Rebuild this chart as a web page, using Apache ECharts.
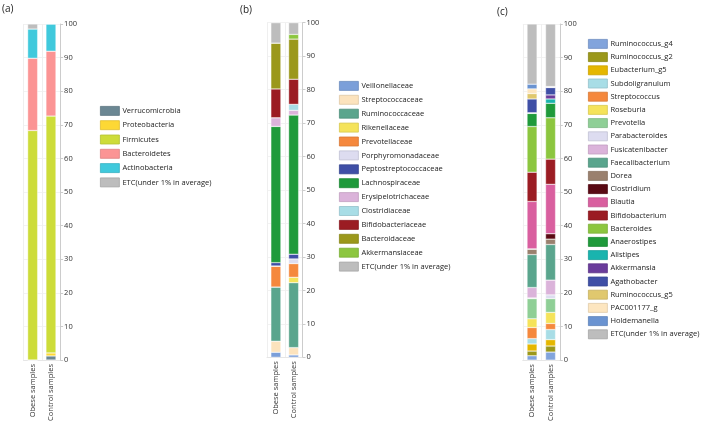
<!DOCTYPE html>
<html>
<head>
<meta charset="utf-8">
<script src="https://cdn.jsdelivr.net/npm/echarts@6/dist/echarts.min.js"></script>
<style>html,body{margin:0;padding:0;background:#fff}#c{width:706px;height:424px}</style>
</head>
<body>
<div id="c"></div>
<script>
const categories = ['Obese samples', 'Control samples'];
const yTicks = [0, 10, 20, 30, 40, 50, 60, 70, 80, 90, 100];

// (a) phylum level
const phylumNames = ['Verrucomicrobia', 'Proteobacteria', 'Firmicutes', 'Bacteroidetes', 'Actinobacteria', 'ETC(under 1% in average)'];
const phylumObese = [0, 0, 68.3, 21.5, 8.7, 1.5];
const phylumControl = [1.2, 0.9, 70.5, 19.3, 8.1, 0];

// (b) family level
const familyNames = ['Veillonellaceae', 'Streptococcaceae', 'Ruminococcaceae', 'Rikenellaceae', 'Prevotellaceae', 'Porphyromonadaceae', 'Peptostreptococcaceae', 'Lachnospiraceae', 'Erysipelotrichaceae', 'Clostridiaceae', 'Bifidobacteriaceae', 'Bacteroidaceae', 'Akkermansiaceae', 'ETC(under 1% in average)'];
const familyObese = [1.5, 3.3, 16.2, 0, 6.2, 0.1, 1.0, 40.7, 2.6, 0, 8.6, 13.7, 0, 6.1];
const familyControl = [0.7, 2.2, 19.4, 1.6, 4.1, 1.4, 1.4, 41.6, 1.4, 1.8, 7.5, 12.0, 1.4, 3.5];

// (c) genus level
const genusNames = ['Ruminococcus_g4', 'Ruminococcus_g2', 'Eubacterium_g5', 'Subdoligranulum', 'Streptococcus', 'Roseburia', 'Prevotella', 'Parabacteroides', 'Fusicatenibacter', 'Faecalibacterium', 'Dorea', 'Clostridium', 'Blautia', 'Bifidobacterium', 'Bacteroides', 'Anaerostipes', 'Alistipes', 'Akkermansia', 'Agathobacter', 'Ruminococcus_g5', 'PAC001177_g', 'Holdemanella', 'ETC(under 1% in average)'];
const genusObese = [1.3, 1.4, 2.1, 1.6, 3.3, 2.6, 6.0, 0.2, 3.1, 9.8, 1.6, 0.1, 14.1, 8.7, 13.6, 3.9, 0.1, 0.1, 4.1, 1.6, 1.4, 1.4, 17.9];
const genusControl = [2.4, 1.8, 1.9, 3.0, 1.8, 3.3, 4.1, 1.1, 4.4, 10.6, 1.6, 1.6, 14.7, 7.5, 12.3, 4.3, 1.3, 1.2, 2.2, 0.1, 0.1, 0.1, 18.6];

// colours (style)
const phylumColors = ['#6b8793', '#fdd835', '#cddc39', '#fb9494', '#40c9dc', '#bdbdbd'];
const familyColors = ['#7b9fd9', '#fce3bd', '#5aa58d', '#f5e35a', '#f5883d', '#dddcf0', '#3f4fa6', '#1f9a3b', '#dbb3da', '#a8dde6', '#9b1c23', '#9b981b', '#8cc63f', '#bdbdbd'];
const genusColors = ['#82a4dc', '#9b981b', '#e5b700', '#a8dde6', '#f5883d', '#f5e35a', '#8fcf96', '#dddcf0', '#dbb3da', '#5aa58d', '#9a806e', '#5a0a14', '#d95f9f', '#9b1c23', '#8cc63f', '#1f9a3b', '#19b4ae', '#6a3c9b', '#3f4fa6', '#e0c86e', '#fde6c0', '#6a93d1', '#bdbdbd'];

function darker(hex) {
  const r = parseInt(hex.slice(1, 3), 16), g = parseInt(hex.slice(3, 5), 16), b = parseInt(hex.slice(5, 7), 16);
  return 'rgb(' + Math.round(r * 0.88) + ',' + Math.round(g * 0.88) + ',' + Math.round(b * 0.88) + ')';
}

const FONT = 'Open Sans';
const grids = [
  {left: 23.5, top: 24, width: 36.6, height: 336},
  {left: 267, top: 22.7, width: 35.5, height: 334.6},
  {left: 522.8, top: 24, width: 37, height: 340}
];

function xAx(i) {
  return {
    type: 'category', gridIndex: i, data: categories,
    axisLine: {show: true, lineStyle: {color: '#e6e6e6'}},
    axisTick: {show: false},
    splitLine: {show: true, lineStyle: {color: '#efefef'}},
    axisLabel: {rotate: 90, fontSize: 7.5, fontFamily: FONT, color: '#333', margin: 4, interval: 0}
  };
}
function yAx(i) {
  return {
    type: 'value', gridIndex: i, position: 'right', min: yTicks[0], max: yTicks[yTicks.length - 1], interval: 10,
    axisLine: {show: true, lineStyle: {color: '#cccccc'}},
    axisTick: {show: true, length: 3, lineStyle: {color: '#cccccc'}},
    splitLine: {show: true, lineStyle: {color: '#f2f2f2'}},
    axisLabel: {fontSize: 7.5, fontFamily: FONT, color: '#333', margin: 4}
  };
}

const series = [];
function addPanel(idx, names, obese, control, colors) {
  names.forEach((n, k) => {
    series.push({
      type: 'bar', name: n, stack: 'p' + idx, xAxisIndex: idx, yAxisIndex: idx,
      barWidth: 10,
      data: [obese[k], control[k]],
      itemStyle: {color: colors[k], borderColor: '#ffffff', borderWidth: 0.4},
      emphasis: {disabled: true}
    });
  });
}
addPanel(0, phylumNames, phylumObese, phylumControl, phylumColors);
addPanel(1, familyNames, familyObese, familyControl, familyColors);
addPanel(2, genusNames, genusObese, genusControl, genusColors);

function leg(names, left, top, gap, colors) {
  return {
    orient: 'vertical', left: left, top: top, padding: 0,
    itemWidth: 19, itemHeight: 9, itemGap: gap,
    icon: 'rect',
    data: names.map((n, k) => ({name: n, itemStyle: {color: colors[k], borderColor: darker(colors[k]), borderWidth: 0.8}})),
    textStyle: {fontSize: 7.5, fontFamily: FONT, color: '#222', lineHeight: 9, padding: [0, 0, 0, -2]},
    selectedMode: false
  };
}

const chart = echarts.init(document.getElementById('c'), null, {renderer: 'canvas'});
chart.setOption({
  animation: false,
  backgroundColor: '#ffffff',
  title: [
    {text: '(a)', left: 2, top: 4, padding: 0, textStyle: {fontSize: 10, fontWeight: 'normal', fontFamily: FONT, color: '#222'}},
    {text: '(b)', left: 240, top: 5, padding: 0, textStyle: {fontSize: 10, fontWeight: 'normal', fontFamily: FONT, color: '#222'}},
    {text: '(c)', left: 497, top: 7, padding: 0, textStyle: {fontSize: 10, fontWeight: 'normal', fontFamily: FONT, color: '#222'}}
  ],
  grid: grids,
  xAxis: [xAx(0), xAx(1), xAx(2)],
  yAxis: [yAx(0), yAx(1), yAx(2)],
  legend: [
    leg(phylumNames, 100, 106, 4.5, phylumColors),
    leg(familyNames, 339, 81, 4.1, familyColors),
    leg(genusNames, 588, 39, 3.4, genusColors)
  ],
  series: series
});
</script>
</body>
</html>
